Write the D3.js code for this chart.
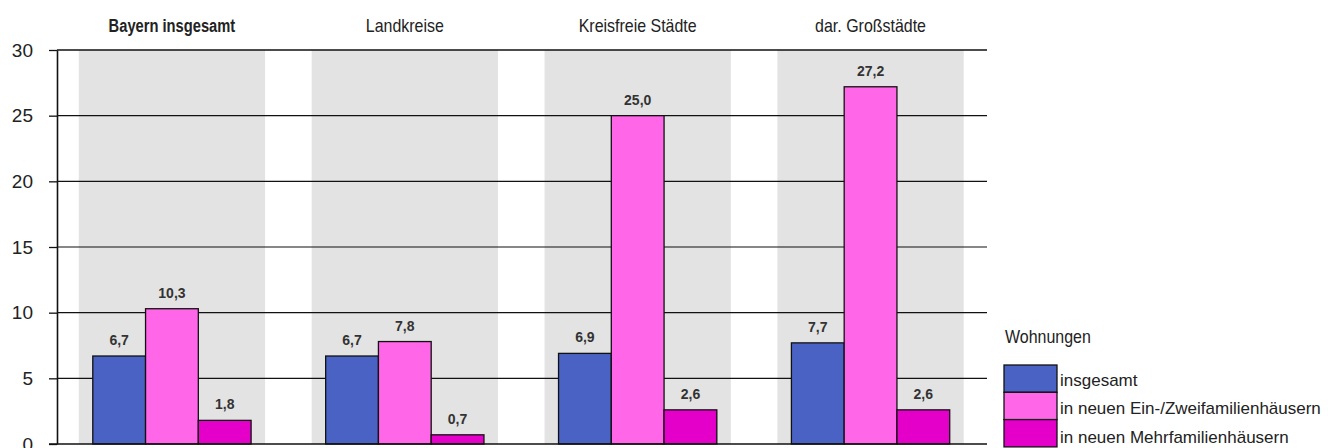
<!DOCTYPE html>
<html><head><meta charset="utf-8">
<script src="https://cdn.jsdelivr.net/npm/d3@7"></script>
<style>
html,body{margin:0;padding:0;background:#fff;}
svg{display:block;}
.narrow{font-family:"Liberation Sans",Arial,sans-serif;}
</style></head><body>
<script>
const categories = ["Bayern insgesamt", "Landkreise", "Kreisfreie Städte", "dar. Großstädte"];
const seriesNames = ["insgesamt", "in neuen Ein-/Zweifamilienhäusern", "in neuen Mehrfamilienhäusern"];
const insgesamt = [6.7, 6.7, 6.9, 7.7];
const einZwei = [10.3, 7.8, 25.0, 27.2];
const mehr = [1.8, 0.7, 2.6, 2.6];
const yTicks = [0, 5, 10, 15, 20, 25, 30];
const legendTitle = "Wohnungen";
const colors = ["#4a62c3", "#ff66e8", "#e400c8"];

const W = 1328, H = 448;
const svg = d3.select("body").append("svg").attr("width", W).attr("height", H);

// horizontally condense text to mimic a narrow typeface
function condense(sel, f) {
  sel.each(function () {
    const len = this.getComputedTextLength();
    d3.select(this).attr("textLength", len * f).attr("lengthAdjust", "spacingAndGlyphs");
  });
}

const axisX = 57, plotRight = 987;
const y = d3.scaleLinear().domain([0, 30]).range([444, 50]);
const x0 = d3.scaleBand().domain(categories).range([55.5, 987]).paddingInner(0.2).paddingOuter(0.1);
const bw = x0.bandwidth();
const x1 = d3.scaleBand().domain(seriesNames).range([14, bw - 14]);

const seriesVals = [insgesamt, einZwei, mehr];
const data = categories.map((c, i) => ({cat: c, vals: seriesNames.map((s, j) => ({s, j, v: seriesVals[j][i]}))}));
const fmt = d3.formatLocale({decimal: ",", thousands: ".", grouping: [3], currency: ["", "€"]}).format(".1f");

// grey bands
svg.append("g").selectAll("rect").data(categories).join("rect")
  .attr("x", d => x0(d)).attr("y", y(30)).attr("width", bw).attr("height", y(0) - y(30))
  .attr("fill", "#e3e3e3");

// gridlines
svg.append("g").selectAll("line").data(yTicks.filter(t => t > 0)).join("line")
  .attr("x1", axisX).attr("x2", plotRight)
  .attr("y1", d => y(d)).attr("y2", d => y(d))
  .attr("stroke", "#111").attr("stroke-width", d => d === 30 ? 1.6 : 1.1);

// bars
const g = svg.append("g").selectAll("g").data(data).join("g")
  .attr("transform", d => `translate(${x0(d.cat)},0)`);
g.selectAll("rect").data(d => d.vals).join("rect")
  .attr("x", d => x1(d.s)).attr("width", x1.bandwidth())
  .attr("y", d => y(d.v)).attr("height", d => y(0) - y(d.v))
  .attr("fill", d => colors[d.j]).attr("stroke", "#111").attr("stroke-width", 1.3);
g.selectAll("text").data(d => d.vals).join("text")
  .attr("x", d => x1(d.s) + x1.bandwidth() / 2).attr("y", d => y(d.v) - 11)
  .attr("text-anchor", "middle")
  .style("font-family", "Liberation Sans, Arial, sans-serif").style("font-size", "14px").style("font-weight", "bold")
  .attr("fill", "#333").text(d => fmt(d.v));

// axis
const axis = d3.axisLeft(y).tickValues(yTicks).tickSizeInner(8).tickSizeOuter(0).tickPadding(16).tickFormat(d3.format("d"));
const ax = svg.append("g").attr("transform", `translate(${axisX},0)`).call(axis);
ax.select(".domain").attr("stroke", "#111").attr("stroke-width", 1.6);
ax.selectAll(".tick line").attr("stroke", "#111").attr("stroke-width", 1.3);
ax.selectAll(".tick text").style("font-family", "Liberation Sans, Arial, sans-serif").style("font-size", "19px").attr("fill", "#222");
// zero line
svg.append("line").attr("x1", axisX - 8).attr("x2", plotRight).attr("y1", y(0)).attr("y2", y(0))
  .attr("stroke", "#111").attr("stroke-width", 1.6);

// category titles
svg.append("g").selectAll("text").data(categories).join("text")
  .attr("class", "narrow")
  .attr("x", d => x0(d) + bw / 2).attr("y", 32)
  .attr("text-anchor", "middle")
  .style("font-size", (d, i) => i === 0 ? "17.5px" : "19px").style("font-weight", (d, i) => i === 0 ? "bold" : "normal")
  .attr("fill", "#222").text(d => d)
  .call(condense, 0.84);

// legend
const lg = svg.append("g").attr("transform", "translate(1004,0)");
lg.append("text").attr("class", "narrow").attr("x", 1).attr("y", 343).style("font-size", "19px").attr("fill", "#222").text(legendTitle)
  .call(condense, 0.84);
const row = lg.selectAll("g").data(seriesNames).join("g").attr("transform", (d, i) => `translate(0,${365 + i * 27.3})`);
row.append("rect").attr("width", 53).attr("height", 27.3).attr("fill", (d, i) => colors[i]).attr("stroke", "#111").attr("stroke-width", 1.3);
row.append("text").attr("class", "narrow").attr("x", 56).attr("y", (d, i) => 21 + i).style("font-size", "17px").attr("fill", "#222").text(d => d);
</script>
</body></html>
